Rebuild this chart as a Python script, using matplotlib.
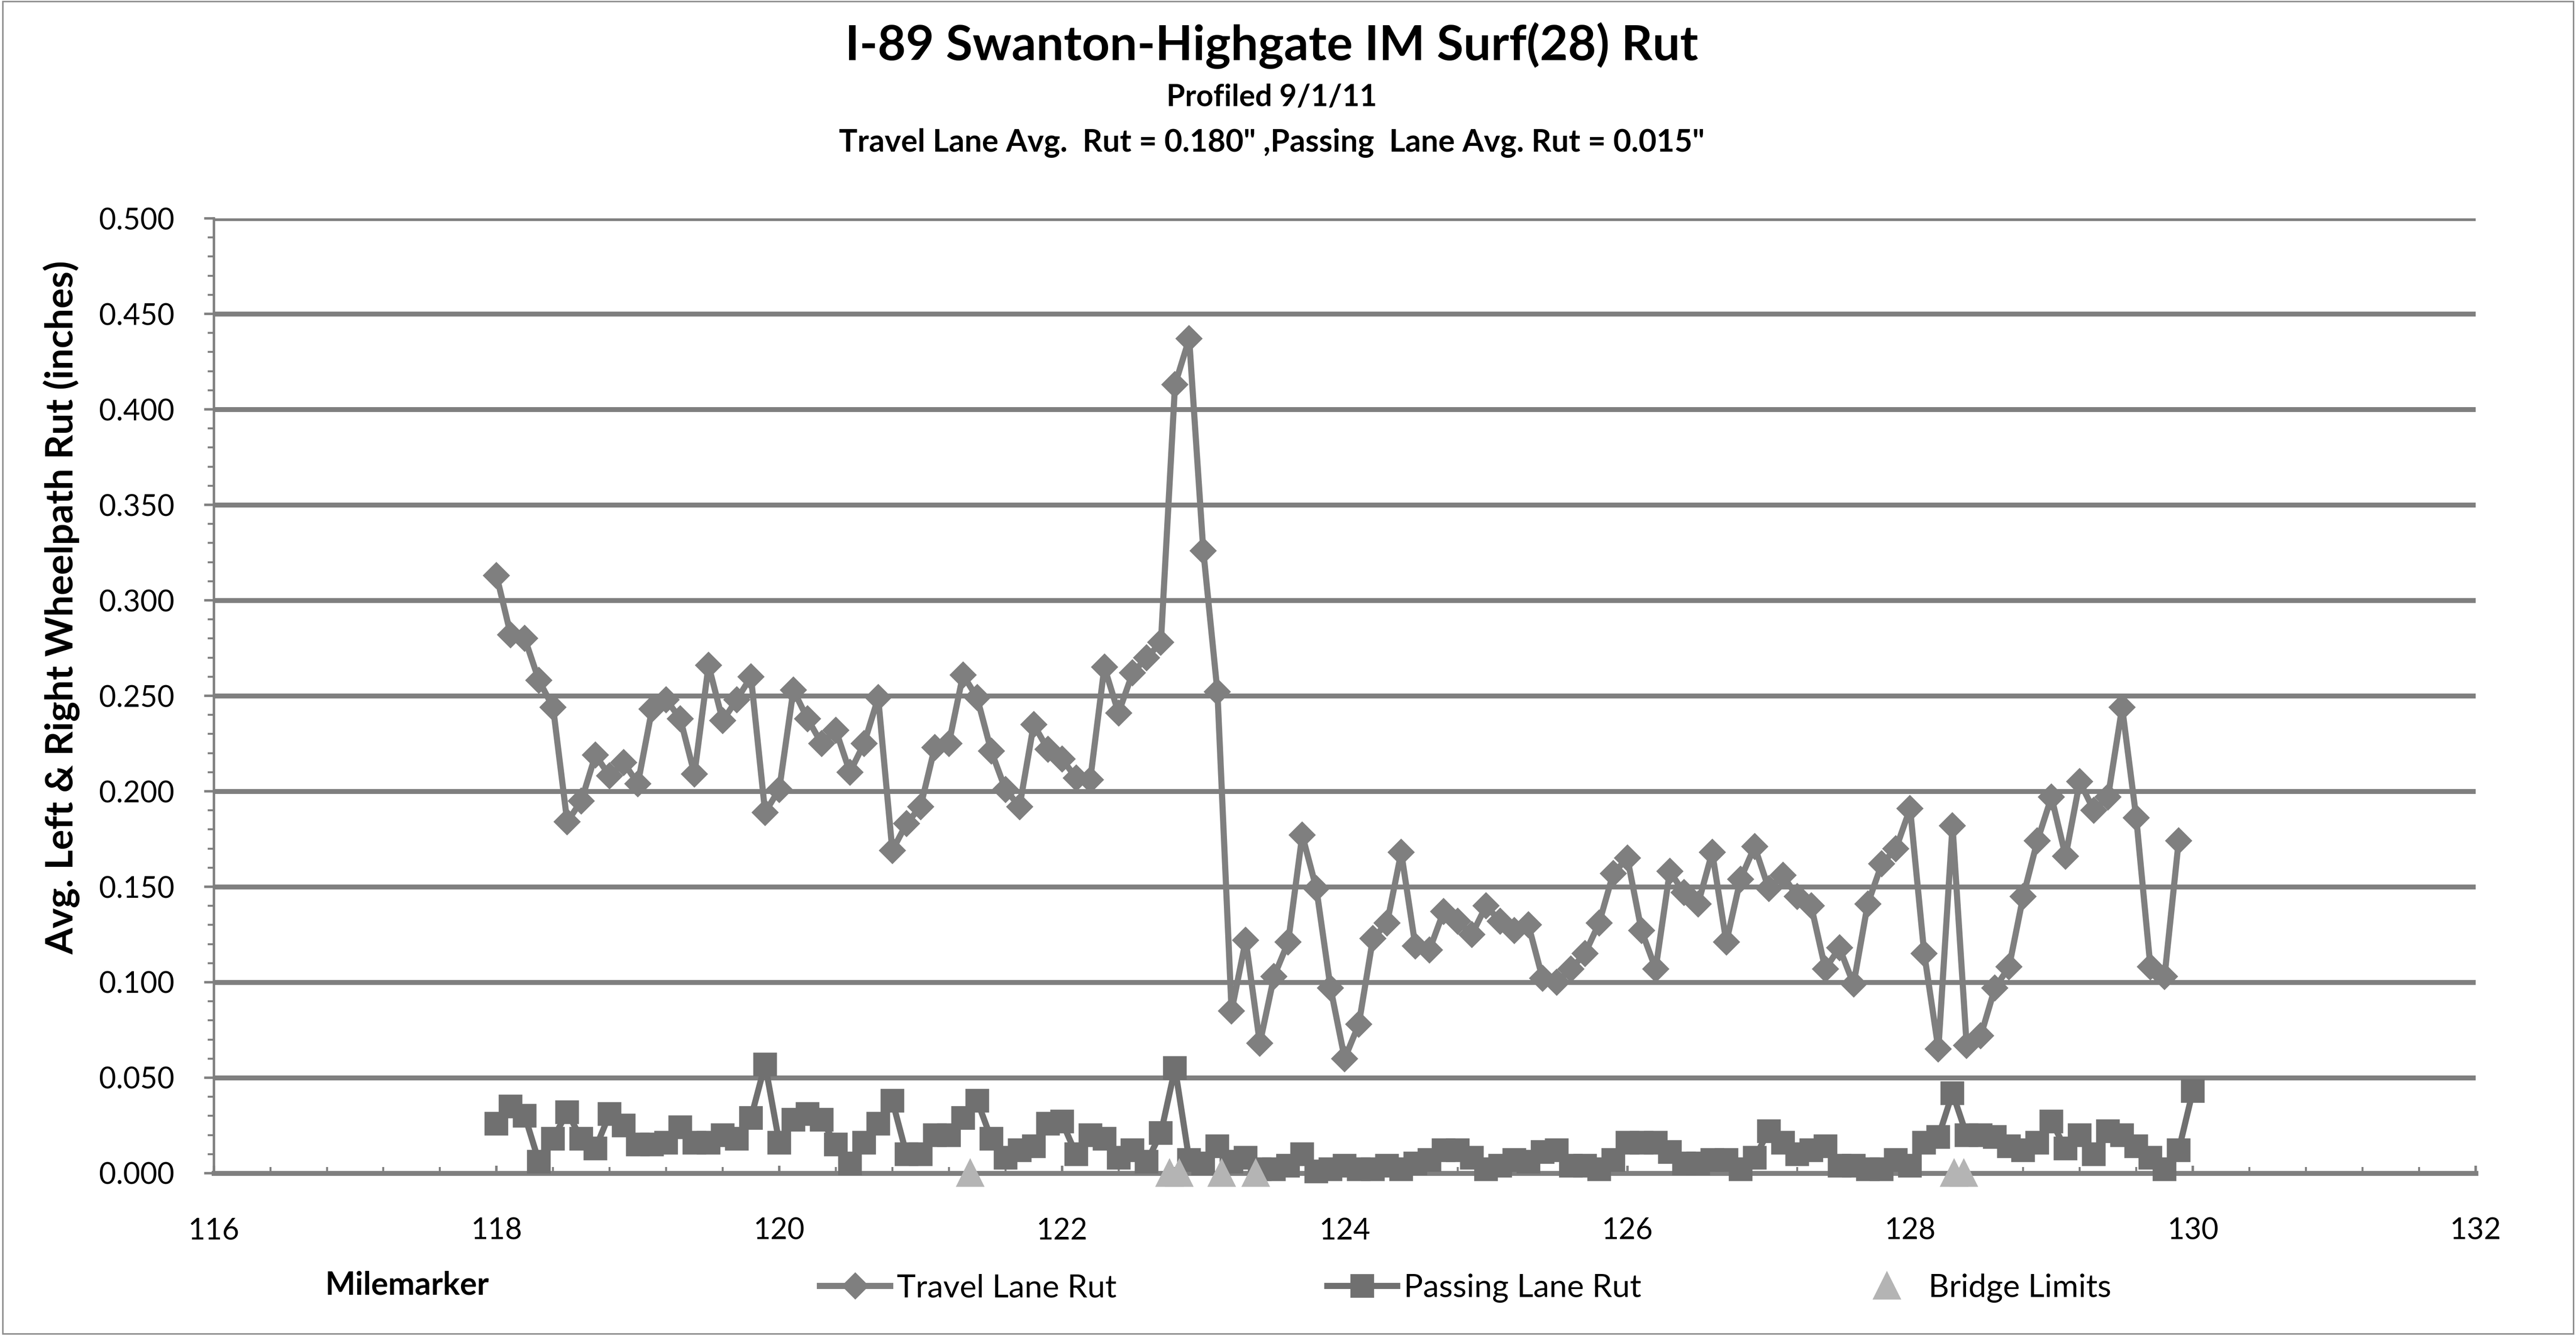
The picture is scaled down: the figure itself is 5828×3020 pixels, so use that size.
import numpy as np
import matplotlib
matplotlib.use('Agg')
import matplotlib.pyplot as plt
from matplotlib.ticker import MultipleLocator, FormatStrFormatter
from matplotlib.lines import Line2D
from matplotlib.patches import Rectangle

plt.rcParams['font.family'] = ['Lato', 'DejaVu Sans']

# stations every 0.1 mile starting at MM 118.0
station_start = 118.0
station_step = 0.1

travel_rut = [
    0.313, 0.282, 0.280, 0.258, 0.244, 0.184, 0.195, 0.219, 0.208, 0.215,
    0.204, 0.243, 0.248, 0.238, 0.209, 0.266, 0.237, 0.248, 0.260, 0.189,
    0.201, 0.253, 0.238, 0.225, 0.232, 0.210, 0.225, 0.249, 0.169, 0.183,
    0.192, 0.223, 0.225, 0.261, 0.249, 0.221, 0.201, 0.192, 0.235, 0.222,
    0.217, 0.207, 0.206, 0.265, 0.241, 0.262, 0.270, 0.278, 0.413, 0.437,
    0.326, 0.252, 0.085, 0.122, 0.068, 0.103, 0.121, 0.177, 0.149, 0.097,
    0.060, 0.078, 0.123, 0.131, 0.168, 0.119, 0.117, 0.137, 0.132, 0.125,
    0.140, 0.132, 0.127, 0.130, 0.102, 0.100, 0.107, 0.115, 0.131, 0.157,
    0.165, 0.127, 0.107, 0.158, 0.147, 0.141, 0.168, 0.121, 0.154, 0.171,
    0.149, 0.156, 0.145, 0.140, 0.107, 0.118, 0.099, 0.141, 0.162, 0.170,
    0.191, 0.115, 0.065, 0.182, 0.067, 0.072, 0.097, 0.108, 0.145, 0.174,
    0.197, 0.166, 0.205, 0.190, 0.197, 0.244, 0.186, 0.108, 0.103, 0.174,
]

passing_rut = [
    0.026, 0.035, 0.030, 0.006, 0.018, 0.032, 0.018, 0.013, 0.031, 0.025,
    0.015, 0.015, 0.016, 0.024, 0.016, 0.016, 0.020, 0.018, 0.029, 0.057,
    0.016, 0.028, 0.031, 0.028, 0.015, 0.005, 0.016, 0.026, 0.038, 0.010,
    0.010, 0.020, 0.020, 0.029, 0.038, 0.018, 0.008, 0.012, 0.014, 0.026,
    0.027, 0.010, 0.020, 0.018, 0.008, 0.012, 0.006, 0.021, 0.055, 0.007,
    0.005, 0.014, 0.006, 0.008, 0.002, 0.002, 0.004, 0.010, 0.001, 0.002,
    0.004, 0.002, 0.002, 0.004, 0.002, 0.005, 0.007, 0.012, 0.012, 0.008,
    0.002, 0.004, 0.007, 0.006, 0.011, 0.012, 0.004, 0.004, 0.002, 0.007,
    0.016, 0.016, 0.016, 0.011, 0.005, 0.005, 0.007, 0.007, 0.002, 0.008,
    0.022, 0.016, 0.010, 0.012, 0.014, 0.004, 0.004, 0.002, 0.002, 0.007,
    0.004, 0.016, 0.019, 0.042, 0.020, 0.020, 0.019, 0.014, 0.012, 0.016,
    0.027, 0.013, 0.020, 0.010, 0.022, 0.020, 0.014, 0.008, 0.002, 0.012,
    0.043,
]

bridge_mm = [121.35, 122.76, 122.83, 123.13, 123.37, 128.31, 128.38]
bridge_rut = [0, 0, 0, 0, 0, 0, 0]

x_ticks = [116, 118, 120, 122, 124, 126, 128, 130, 132]

title = 'I-89 Swanton-Highgate IM Surf(28) Rut'
subtitle = 'Profiled 9/1/11'
subtitle2 = 'Travel Lane Avg.  Rut = 0.180" ,Passing  Lane Avg. Rut = 0.015"'

travel_x = station_start + station_step * np.arange(len(travel_rut))
passing_x = station_start + station_step * np.arange(len(passing_rut))

travel_col = '#7f7f7f'
passing_col = '#707070'
bridge_col = '#b4b4b4'
grid_col = '#7f7f7f'

fig = plt.figure(figsize=(5828 / 400, 3020 / 400), dpi=400)
fig.patches.append(Rectangle((0.001, 0.001), 0.998, 0.998, transform=fig.transFigure,
                             fill=False, edgecolor='#8c8c8c', linewidth=0.6))

ax = fig.add_axes([0.083, 0.1212, 0.878, 0.7152])
ax.set_xlim(116, 132)
ax.set_ylim(0, 0.5)

ax.yaxis.set_major_locator(MultipleLocator(0.05))
ax.yaxis.set_major_formatter(FormatStrFormatter('%.3f'))
ax.set_xticks(x_ticks)
ax.xaxis.set_minor_locator(MultipleLocator(0.4))
ax.yaxis.set_minor_locator(MultipleLocator(0.01))

ax.grid(axis='y', color=grid_col, linewidth=2.0, zorder=0)
ax.set_axisbelow(True)
for side in ['top', 'right']:
    ax.spines[side].set_visible(False)
ax.spines['left'].set_color(grid_col)
ax.spines['left'].set_linewidth(1.0)
ax.spines['bottom'].set_color(grid_col)
ax.spines['bottom'].set_linewidth(2.0)

ax.tick_params(axis='y', which='major', direction='out', length=4, width=1.0,
               color=grid_col, labelsize=12, pad=12)
ax.tick_params(axis='y', which='minor', direction='out', length=2.5, width=0.8,
               color=grid_col)
ax.tick_params(axis='x', which='major', direction='in', length=3, width=1.0,
               color=grid_col, labelsize=12, pad=18)
ax.tick_params(axis='x', which='minor', direction='in', length=2.5, width=0.8,
               color=grid_col)

ax.plot(travel_x, travel_rut, color=travel_col, linewidth=2.5, marker='D',
        markersize=7.0, markerfacecolor=travel_col, markeredgecolor=travel_col,
        zorder=3, clip_on=False)
ax.plot(passing_x, passing_rut, color=passing_col, linewidth=2.5, marker='s',
        markersize=8.5, markerfacecolor=passing_col, markeredgecolor=passing_col,
        zorder=3, clip_on=False)
ax.plot(bridge_mm, bridge_rut, linestyle='none', marker='^', markersize=10,
        color=bridge_col, zorder=4, clip_on=False)

fig.text(0.4937, 0.966, title, ha='center', va='center', fontsize=19.8, fontweight='bold')
fig.text(0.4937, 0.927, subtitle, ha='center', va='center', fontsize=12.2, fontweight='bold')
fig.text(0.4937, 0.893, subtitle2, ha='center', va='center', fontsize=12.6, fontweight='bold')

fig.text(0.024, 0.545, 'Avg. Left & Right Wheelpath Rut (inches)', rotation=90,
         ha='center', va='center', fontsize=15.5, fontweight='bold')
fig.text(0.158, 0.037, 'Milemarker', ha='center', va='center', fontsize=13, fontweight='bold')

handles = [
    Line2D([], [], color=travel_col, linewidth=2.5, marker='D', markersize=7.0),
    Line2D([], [], color=passing_col, linewidth=2.5, marker='s', markersize=8.5),
    Line2D([], [], color=bridge_col, linestyle='none', marker='^', markersize=10),
]
fig.legend(handles, ['Travel Lane Rut', 'Passing Lane Rut', 'Bridge Limits'],
           loc='center', bbox_to_anchor=(0.569, 0.035), ncol=3, frameon=False,
           fontsize=13, handlelength=2.2, columnspacing=6.6, handletextpad=0.2)

fig.savefig('out.png', dpi=400)
